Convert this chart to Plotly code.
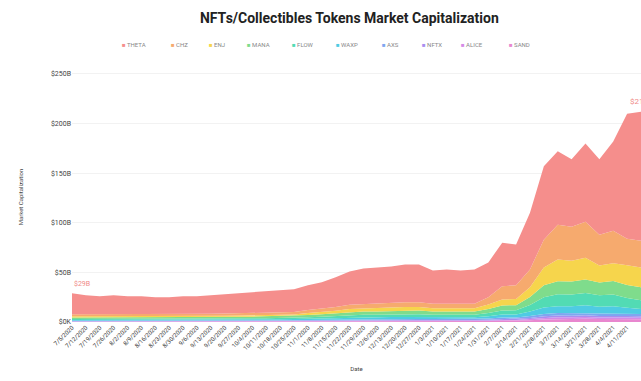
import plotly.graph_objects as go
import pandas as pd

dates = pd.date_range("2020-07-05", periods=42, freq="7D")

names = ["THETA", "CHZ", "ENJ", "MANA", "FLOW", "WAXP", "AXS", "NFTX", "ALICE", "SAND"]
colors = ["#f58e8c", "#f6aa6e", "#f6d54c", "#7fdc8c", "#52dbb4", "#4fcbe3",
          "#7fa6f0", "#a98ef0", "#d58ae6", "#e887cf"]

THETA = [21.3, 19.3, 18.3, 19.3, 18.3, 18.3, 17.3, 17.3, 18.3, 18.0, 18.6, 19.5, 20.2, 20.9,
         21.5, 22.3, 22.9, 25.0, 26.5, 29.8, 33.6, 35.8, 36.4, 36.6, 38.0, 38.0, 33.5, 34.5,
         33.5, 34.5, 35.0, 44.0, 41.0, 57.0, 74.0, 74.0, 68.0, 79.0, 76.0, 90.0, 126.0, 130.0]
CHZ = [2.0, 2.0, 2.0, 2.0, 2.0, 2.0, 2.0, 2.0, 2.0, 2.1, 2.1, 2.2, 2.2, 2.3, 2.3, 2.4, 2.5,
       3.0, 3.4, 3.8, 4.3, 4.5, 4.6, 4.8, 5.0, 5.0, 4.6, 4.6, 4.6, 4.6, 7.4, 13.4, 13.8, 17.9,
       28.0, 35.0, 34.2, 36.2, 31.1, 32.7, 26.7, 27.0]
ENJ = [1.2, 1.2, 1.2, 1.2, 1.2, 1.2, 1.2, 1.2, 1.2, 1.3, 1.3, 1.3, 1.4, 1.4, 1.5, 1.5, 1.6,
       2.0, 2.3, 2.6, 3.0, 3.2, 3.3, 3.4, 3.5, 3.5, 3.2, 3.2, 3.2, 3.2, 4.5, 6.0, 6.2, 10.0,
       18.0, 22.0, 21.0, 22.0, 17.0, 18.0, 20.0, 20.0]
MANA = [1.5, 1.5, 1.5, 1.5, 1.5, 1.5, 1.5, 1.5, 1.5, 1.5, 1.6, 1.6, 1.7, 1.7, 1.8, 1.8, 1.9,
        2.2, 2.5, 2.8, 3.2, 3.3, 3.4, 3.5, 3.6, 3.6, 3.3, 3.3, 3.3, 3.3, 4.0, 5.0, 5.2, 8.0,
        12.0, 13.0, 13.0, 13.5, 13.0, 13.5, 13.0, 13.0]
FLOW = [1.0, 1.0, 1.0, 1.0, 1.0, 1.0, 1.0, 1.0, 1.0, 1.0, 1.1, 1.1, 1.1, 1.2, 1.2, 1.2, 1.3,
        1.5, 1.7, 2.0, 2.4, 2.5, 2.6, 2.7, 2.8, 2.8, 2.6, 2.6, 2.6, 2.6, 3.2, 4.0, 4.2, 6.5,
        10.5, 12.0, 12.0, 12.5, 11.5, 11.8, 10.0, 9.0]
WAXP = [0.8, 0.8, 0.8, 0.8, 0.8, 0.8, 0.8, 0.8, 0.8, 0.8, 0.9, 0.9, 0.9, 0.9, 1.0, 1.0, 1.0,
        1.2, 1.3, 1.5, 1.7, 1.8, 1.8, 1.9, 2.0, 2.0, 1.9, 1.9, 1.9, 1.9, 2.4, 3.0, 3.0, 4.5,
        6.5, 7.0, 7.0, 7.5, 7.0, 7.2, 6.0, 5.0]
AXS = [0.4, 0.4, 0.4, 0.4, 0.4, 0.4, 0.4, 0.4, 0.4, 0.5, 0.5, 0.5, 0.5, 0.5, 0.5, 0.6, 0.6,
       0.7, 0.8, 0.9, 1.0, 1.0, 1.0, 1.1, 1.1, 1.1, 1.0, 1.0, 1.0, 1.0, 1.2, 1.6, 1.6, 2.0,
       2.3, 2.5, 2.4, 2.5, 2.3, 2.4, 2.3, 2.3]
NFTX = [0.3, 0.3, 0.3, 0.3, 0.3, 0.3, 0.3, 0.3, 0.3, 0.3, 0.3, 0.3, 0.3, 0.4, 0.4, 0.4, 0.4,
        0.4, 0.5, 0.5, 0.5, 0.6, 0.6, 0.6, 0.6, 0.6, 0.6, 0.6, 0.6, 0.6, 0.7, 0.9, 0.9, 1.2,
        1.5, 1.7, 1.6, 1.7, 1.5, 1.6, 1.5, 1.4]
ALICE = [0.2, 0.2, 0.2, 0.2, 0.2, 0.2, 0.2, 0.2, 0.2, 0.2, 0.2, 0.2, 0.3, 0.3, 0.3, 0.3, 0.3,
         0.4, 0.4, 0.4, 0.5, 0.5, 0.5, 0.5, 0.5, 0.5, 0.5, 0.5, 0.5, 0.5, 0.6, 0.8, 0.8, 1.1,
         1.6, 1.8, 1.8, 1.9, 1.7, 1.8, 1.7, 1.6]
SAND = [0.3, 0.3, 0.3, 0.3, 0.3, 0.3, 0.3, 0.3, 0.3, 0.3, 0.4, 0.4, 0.4, 0.4, 0.5, 0.5, 0.5,
        0.6, 0.6, 0.7, 0.8, 0.8, 0.8, 0.9, 0.9, 0.9, 0.8, 0.8, 0.8, 0.8, 1.0, 1.3, 1.3, 1.8,
        2.6, 3.0, 3.0, 3.2, 2.9, 3.0, 2.8, 2.7]

series = [THETA, CHZ, ENJ, MANA, FLOW, WAXP, AXS, NFTX, ALICE, SAND]

ytick_vals = [0, 50, 100, 150, 200, 250]
ytick_text = ["$0K", "$50B", "$100B", "$150B", "$200B", "$250B"]

start_label = "$29B"
end_label = "$212B"

fig = go.Figure()
# bottom layers first so THETA ends on top
for name, vals, col in reversed(list(zip(names, series, colors))):
    fig.add_trace(go.Scatter(
        x=dates, y=vals, name=name, mode="lines", stackgroup="one",
        line=dict(width=0, color=col), fillcolor=col, showlegend=False,
    ))

totals = [sum(v[i] for v in series) for i in range(len(dates))]

fig.add_annotation(x=dates[0], y=totals[0], text=start_label, showarrow=False,
                   yshift=9, xanchor="left", font=dict(size=7, color="#f08a88"))
fig.add_annotation(x=dates[-1], y=totals[-1], text=end_label, showarrow=False,
                   yshift=10, xanchor="center", font=dict(size=8, color="#f08a88"))

# legend row drawn as text (small coloured squares + labels)
legend_px = [120, 169, 207, 245, 290, 334, 380, 420, 459, 507]
for name, col, px in zip(names, colors, legend_px):
    fig.add_annotation(
        xref="paper", yref="paper", x=(px - 72) / 569, y=1.108,
        xanchor="left", yanchor="middle", showarrow=False,
        text=f'<span style="color:{col}">■</span> {name}',
        font=dict(size=6, color="#888"),
    )

fig.update_layout(
    width=641, height=381,
    margin=dict(l=72, r=0, t=72, b=59),
    paper_bgcolor="white", plot_bgcolor="white",
    title=dict(text="<b>NFTs/Collectibles Tokens Market Capitalization</b>",
               x=0.545, xanchor="center", y=0.953, yanchor="middle",
               font=dict(family="Roboto, Arial, sans-serif", size=14, color="#222")),
    showlegend=False,
    font=dict(family="Roboto, Arial, sans-serif"),
)
fig.update_xaxes(
    range=[dates[0], dates[-1]], tickmode="array", tickvals=list(dates),
    tickformat="%-m/%-d/%Y", tickangle=-45, tickfont=dict(size=6, color="#333"),
    showgrid=False, zeroline=False, showline=False,
    title=dict(text="Date", font=dict(size=6, color="#444"), standoff=16),
)
fig.update_yaxes(
    range=[0, 252], tickmode="array", tickvals=ytick_vals, ticktext=ytick_text,
    tickfont=dict(size=7, color="#444"), showgrid=True, gridcolor="#f2f2f2",
    zeroline=False, ticks="", ticklen=0,
    title=dict(text="Market Capitalization", font=dict(size=6, color="#444"), standoff=26),
)

fig.write_html("out.html")
